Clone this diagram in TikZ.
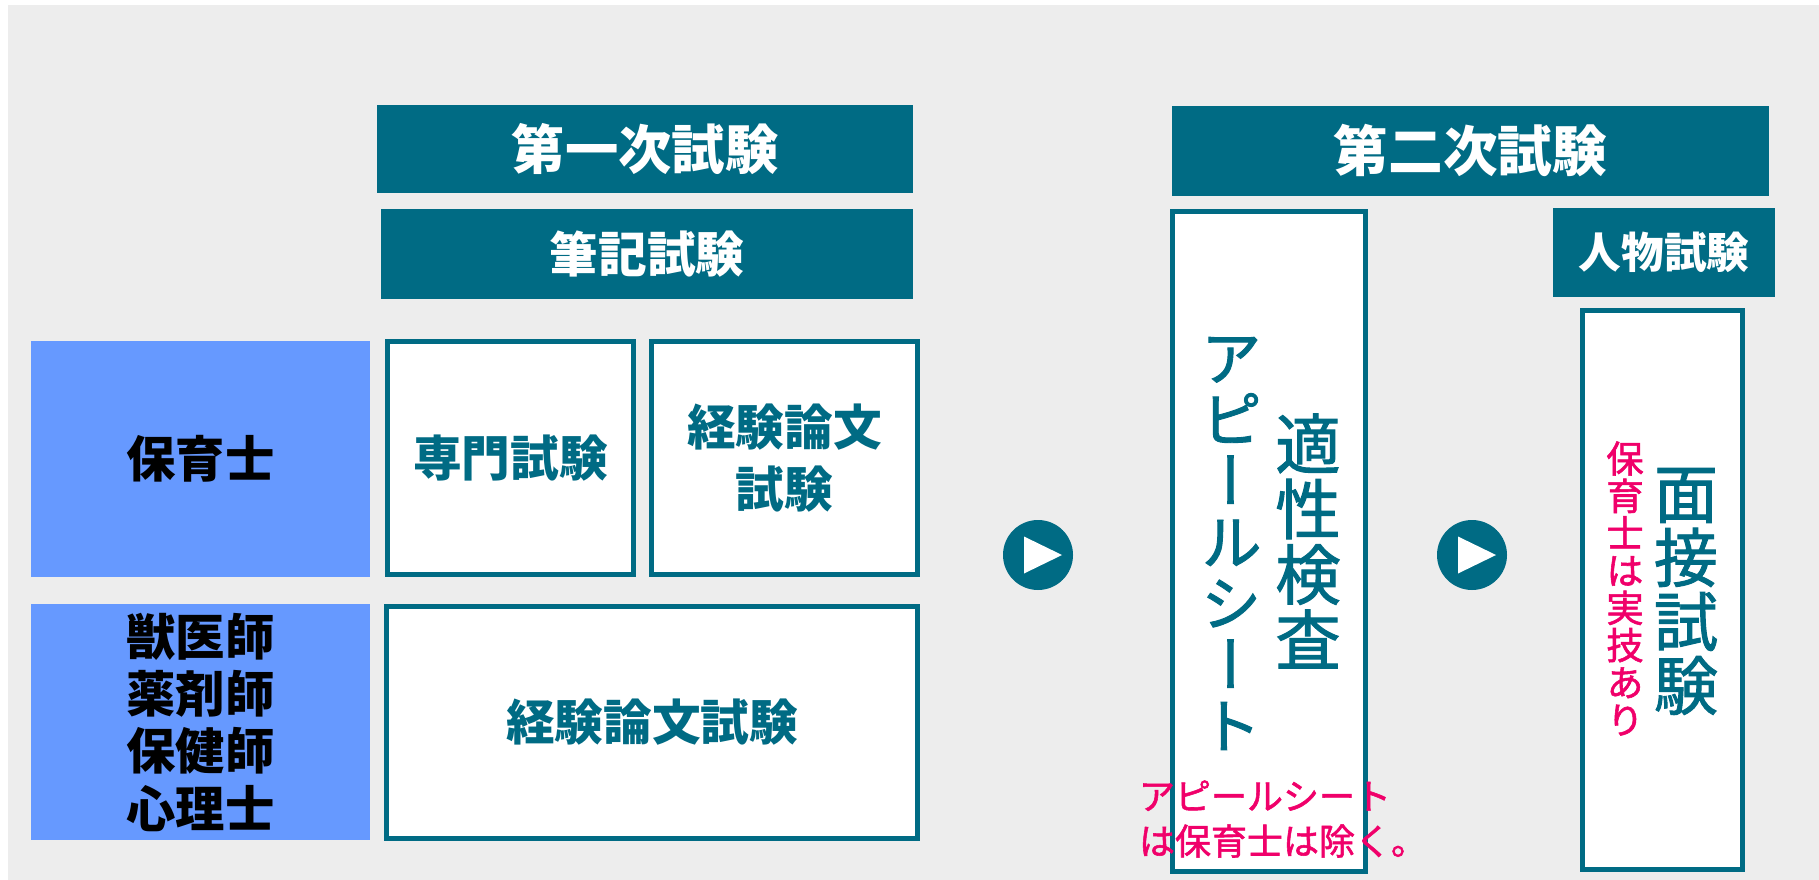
\documentclass[tikz,border=0pt]{standalone}
\usepackage{fontspec}
\usepackage{xcolor}
\usepackage{tikz}
\newfontfamily\jpfont{Noto Sans CJK JP}
\newfontfamily\jpmed[FakeBold=1.5]{Noto Sans CJK JP}
\newfontfamily\jpvert[RawFeature=+vert,FakeBold=1.5]{Noto Sans CJK JP}
\definecolor{headteal}{HTML}{006B84}
\definecolor{shokublue}{HTML}{6699FF}
\definecolor{notepink}{HTML}{F0006A}
\definecolor{bggrey}{HTML}{EDEDED}

\begin{document}
\begin{tikzpicture}[x=0.75pt,y=-0.75pt,
    header/.style={fill=headteal,text=white,inner sep=0pt},
    shoku/.style={fill=shokublue,text=black,inner sep=0pt,align=center,
        font=\jpfont\bfseries\fontsize{37}{43}\selectfont},
    kamoku/.style={draw=headteal,line width=3.75pt,fill=white,text=headteal,inner sep=0pt,align=center,
        font=\jpfont\bfseries\fontsize{36.5}{47}\selectfont},
    susumu/.style={circle,fill=headteal,minimum size=52.5pt,inner sep=0pt},
    tatetext/.style={text=headteal,align=center,inner sep=0pt},
    notetext/.style={text=notepink,inner sep=0pt}]
    \useasboundingbox (0,0) rectangle (1819,880);
    \fill[bggrey] (8,5) rectangle (1819,880);
    %背景(bggrey)
    \node[header,minimum width=402pt,minimum height=66pt,font=\jpfont\bfseries\fontsize{40}{48}\selectfont] (ichiji) at (645,149) {第一次試験};
    \node[header,minimum width=399pt,minimum height=67.5pt,font=\jpfont\bfseries\fontsize{36.5}{44}\selectfont] (hikki) at (647,254) {筆記試験};
    \node[header,minimum width=447.75pt,minimum height=67.5pt,font=\jpfont\bfseries\fontsize{41}{48}\selectfont] (niji) at (1470.5,151) {第二次試験};
    \node[header,minimum width=166.5pt,minimum height=66.75pt,font=\jpfont\bfseries\fontsize{32}{40}\selectfont] (jinbutsu) at (1664,252.5) {人物試験};
    %见出し(header)
    \node[shoku,minimum width=254.25pt,minimum height=177pt] (hoikushi) at (200.5,459) {保育士};
    \node[shoku,minimum width=254.25pt,minimum height=177pt] (sonota) at (200.5,722) {獣医師\\薬剤師\\保健師\\心理士};
    %職種(shoku)
    \node[kamoku,minimum width=184.5pt,minimum height=174.75pt] (senmon) at (510.5,458) {専門試験};
    \node[kamoku,minimum width=199.5pt,minimum height=174.75pt] (ronbuna) at (784.5,458) {経験論文\\試験};
    \node[kamoku,minimum width=398.25pt,minimum height=174pt] (ronbunb) at (652,722.5) {経験論文試験};
    %第一次試験の科目(kamoku)
    \node[susumu] (susumua) at (1038,555) {};
    \fill[white,shift={(susumua.center)}] (-14,-18.5) -- (24,0) -- (-14,18.5) -- cycle;
    \node[susumu] (susumub) at (1472,555) {};
    \fill[white,shift={(susumub.center)}] (-14,-18.5) -- (24,0) -- (-14,18.5) -- cycle;
    %矢印(susumu)
    \node[kamoku,minimum width=144.75pt,minimum height=495pt] (tekisei) at (1269,541.5) {};
    \node[kamoku,minimum width=120pt,minimum height=419.25pt] (mensetsu) at (1662.5,590) {};
    %第二次試験の枠
    \node[tatetext,font=\jpvert\fontsize{46}{46}\selectfont] (appeal) at (1231,543.5) {ア\\ピ\\ー\\ル\\シ\\ー\\ト};
    \node[tatetext,font=\jpvert\fontsize{49}{49}\selectfont] (tekiseikensa) at (1308,541) {適\\性\\検\\査};
    \node[tatetext,font=\jpvert\fontsize{48}{48}\selectfont] (mensetsushiken) at (1686,591.5) {面\\接\\試\\験};
    \node[tatetext,text=notepink,font=\jpvert\fontsize{28}{28}\selectfont] (jitsugi) at (1625,588.5) {保\\育\\士\\は\\実\\技\\あ\\り};
    %縦書き(tatetext)
    \node[notetext,align=left,font=\jpmed\fontsize{27}{33.75}\selectfont] (appealnote) at (1283,819) {アピールシート\\は保育士は除く。};
    %注(notetext)
\end{tikzpicture}
\end{document}
